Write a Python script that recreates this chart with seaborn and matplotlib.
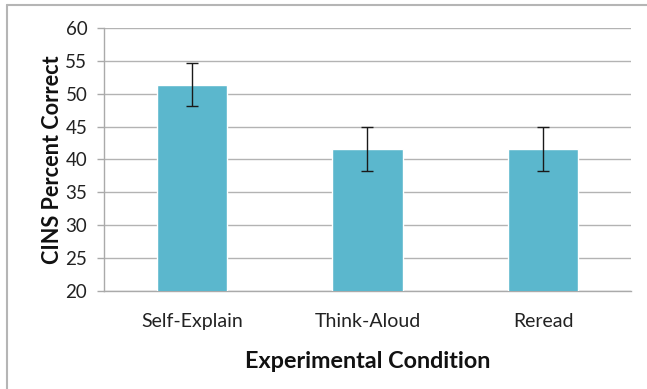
import matplotlib
matplotlib.use("Agg")
import matplotlib.pyplot as plt
import seaborn as sns
import pandas as pd
from matplotlib.lines import Line2D

categories = ["Self-Explain", "Think-Aloud", "Reread"]
values = [51.4, 41.6, 41.6]
errors = [3.3, 3.35, 3.3]
yticks = [20, 25, 30, 35, 40, 45, 50, 55, 60]

sns.set_theme(style="white")
plt.rcParams['font.family'] = ['Lato', 'DejaVu Sans']

df = pd.DataFrame({"cond": categories, "val": values})

fig = plt.figure(figsize=(6.47, 3.89), dpi=100)
ax = fig.add_axes([0.1607, 0.252, 0.975 - 0.1607, 0.928 - 0.252])

bar_color = "#5BB7CD"
sns.barplot(data=df, x="cond", y="val", color=bar_color, width=0.4,
            errorbar=None, ax=ax, saturation=1, zorder=3)
ax.errorbar(range(len(categories)), values, yerr=errors, fmt="none",
            ecolor="#1a1a1a", elinewidth=1.0, capsize=4, capthick=1.0, zorder=4)

ax.set_ylim(20, 60)
ax.set_xlim(-0.5, 2.5)
ax.set_yticks(yticks)
ax.set_yticklabels([str(t) for t in yticks], fontsize=13.5, color="#222222")
ax.set_xticks(range(len(categories)))
ax.set_xticklabels(categories, fontsize=14, color="#222222")
ax.tick_params(axis="x", which="major", length=0, pad=16)
ax.set_xticks([-0.5, 0.5, 1.5, 2.5], minor=True)
ax.tick_params(axis="x", which="minor", length=5, color="#aaaaaa", width=1, direction="out")
ax.tick_params(axis="y", length=5, color="#aaaaaa", width=1, direction="out", pad=7, left=True)

ax.yaxis.grid(True, color="#b3b3b3", linewidth=1.0, zorder=0)
ax.set_axisbelow(True)
for s in ["top", "right"]:
    ax.spines[s].set_visible(False)
for s in ["left", "bottom"]:
    ax.spines[s].set_color("#aaaaaa")
    ax.spines[s].set_linewidth(1.0)

ax.set_xlabel("Experimental Condition", fontsize=16.8, fontweight="bold", color="#111111", labelpad=15)
ax.set_ylabel("CINS Percent Correct", fontsize=15.6, fontweight="bold", color="#111111", labelpad=2)

# figure frame (top and left edges visible)
fig.add_artist(Line2D([7/647, 1.0], [1 - 5/389, 1 - 5/389], transform=fig.transFigure,
                      color="#b5b5b5", linewidth=1.5))
fig.add_artist(Line2D([7/647, 7/647], [0, 1 - 5/389], transform=fig.transFigure,
                      color="#b5b5b5", linewidth=1.5))

fig.savefig("out.png", dpi=100)
